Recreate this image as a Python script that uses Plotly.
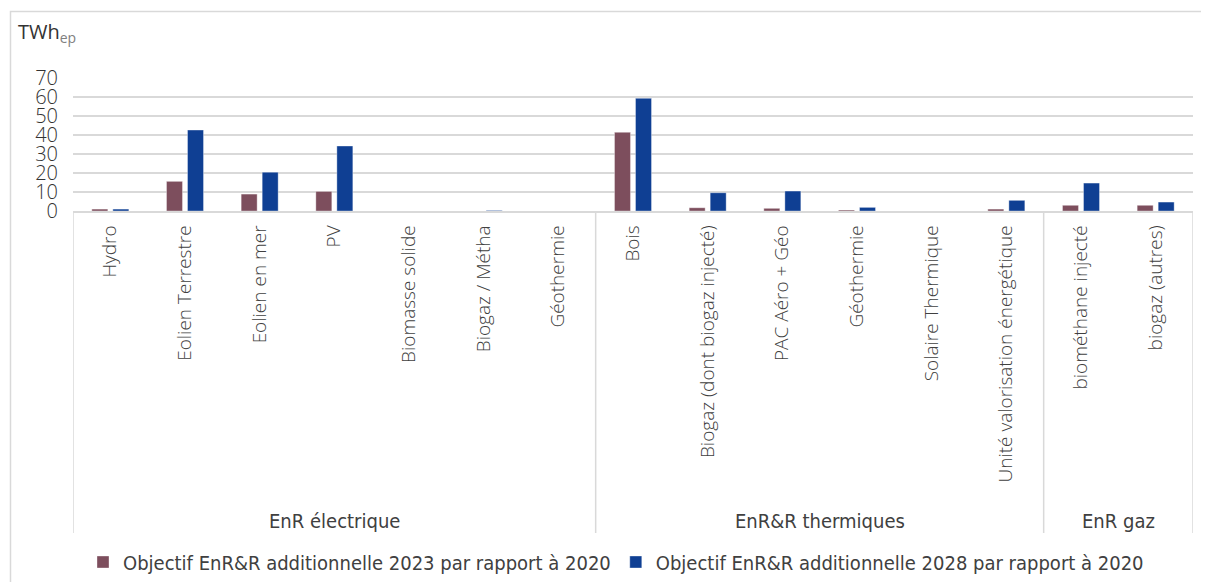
import plotly.graph_objects as go

# ---- data ----
groups = ["EnR électrique", "EnR&R thermiques", "EnR gaz"]
group_sizes = [7, 6, 2]
categories = [
    "Hydro", "Eolien Terrestre", "Eolien en mer", "PV", "Biomasse solide",
    "Biogaz / Métha", "Géothermie",
    "Bois", "Biogaz (dont biogaz injecté)", "PAC Aéro + Géo", "Géothermie",
    "Solaire Thermique", "Unité valorisation énergétique",
    "biométhane injecté", "biogaz (autres)",
]
series_names = [
    "Objectif EnR&R additionnelle 2023 par rapport à 2020",
    "Objectif EnR&R additionnelle 2028 par rapport à 2020",
]
v2023 = [1.0, 15.6, 8.9, 10.3, 0, 0, 0, 41.4, 1.7, 1.4, 0.5, 0, 1.0, 3.0, 3.0]
v2028 = [1.0, 42.6, 20.4, 34.2, 0, 0.3, 0, 59.3, 9.6, 10.5, 1.9, 0, 5.6, 14.7, 4.7]
y_ticks = [0, 10, 20, 30, 40, 50, 60, 70]

colors = ["#7D4E5D", "#0F3F93"]
x = list(range(len(categories)))

# page body has an 8px margin -> figure is drawn offset by (8, 8)
OFF = 8
W, H = 1209 - OFF, 582 - OFF
L, R, T = 73 - OFF, 16, 78 - OFF
B = H - (211 - OFF)
pw = W - L - R
ph = H - T - B


def py(ref_pix):
    """reference pixel row -> paper y"""
    return (H - B - (ref_pix - OFF)) / ph


def px(ref_pix):
    return (ref_pix - OFF - L) / pw


fig = go.Figure()
for name, vals, col in zip(series_names, [v2023, v2028], colors):
    fig.add_trace(go.Bar(
        x=x, y=vals, name=name,
        marker=dict(color=col, line=dict(color="rgba(255,255,255,0.35)", width=1)),
    ))

tick_font = dict(family="Open Sans", size=19, color="#404040", weight=300)
label_font = dict(family="DejaVu Sans Condensed, Liberation Sans, sans-serif",
                  size=20, color="#404040")

shapes = []
bounds = [-0.5]
for s in group_sizes:
    bounds.append(bounds[-1] + s)
for b in bounds:
    shapes.append(dict(type="line", xref="x", yref="paper", x0=b, x1=b,
                       y0=0, y1=py(533), line=dict(color="#D9D9D9", width=1.5)))
shapes.append(dict(type="rect", xref="paper", yref="paper",
                   x0=px(10.5), x1=px(1240), y0=py(620), y1=py(11.5),
                   line=dict(color="#D9D9D9", width=1.5)))

annotations = []
start = -0.5
for g, s in zip(groups, group_sizes):
    annotations.append(dict(x=start + s / 2, y=py(521), xref="x", yref="paper",
                            text=g, showarrow=False, font=label_font,
                            xanchor="center", yanchor="middle"))
    start += s
annotations.append(dict(x=px(16), y=py(33), xref="paper", yref="paper",
                        text="TWh<sub><span style='color:#808080'>ep</span></sub>",
                        showarrow=False, xanchor="left", yanchor="middle",
                        font=dict(family="Open Sans", size=20, color="#333333")))

fig.update_layout(
    width=W, height=H,
    margin=dict(l=L, r=R, t=T, b=B, autoexpand=False),
    paper_bgcolor="white", plot_bgcolor="white",
    barmode="group", bargap=0.437, bargroupgap=0.24,
    showlegend=True,
    legend=dict(orientation="h", x=px(616), xanchor="center", xref="paper",
                y=(H - (562 - OFF)) / H, yref="container", yanchor="middle",
                font=label_font, itemwidth=30, tracegroupgap=0,
                bgcolor="rgba(0,0,0,0)"),
    shapes=shapes, annotations=annotations,
    xaxis=dict(range=[-0.5, len(categories) - 0.5], tickvals=x, ticktext=categories,
               tickangle=-90, tickfont=tick_font, showgrid=False, zeroline=False,
               showline=True, linecolor="#D9D9D9", linewidth=1.5, ticks="",
               ticklabelstandoff=5,
               automargin=False, fixedrange=True),
    yaxis=dict(range=[0, 70], tickvals=y_ticks, showgrid=True, gridcolor="#D9D9D9",
               gridwidth=1.5, zeroline=False, showline=False, ticks="",
               ticklabelstandoff=14,
               tickfont=dict(family="Open Sans", size=20, color="#333333", weight=300),
               automargin=False, fixedrange=True),
)

fig.write_html("out.html")
